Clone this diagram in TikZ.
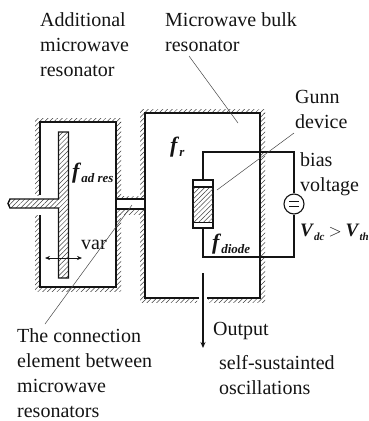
\documentclass[tikz,border=0pt]{standalone}
\usepackage{fontspec}
\setmainfont{Liberation Serif}
\usepackage{xcolor}
\usetikzlibrary{arrows.meta, positioning, patterns.meta}
\definecolor{cInk}{RGB}{20,20,20}
\definecolor{cLeader}{RGB}{70,70,70}
\newcommand{\fsym}[2]{\textbf{\textit{#1}}\raisebox{-4pt}{\fontsize{13}{13}\selectfont\textbf{\textit{#2}}}}
\newcommand{\vsym}[2]{{\fontsize{19}{25}\selectfont\textbf{\textit{#1}}}\raisebox{-4pt}{\fontsize{11}{11}\selectfont\textbf{\textit{#2}}}}
\tikzset{
	wall/.style={draw=cInk, line width=1.4pt},
	wire/.style={draw=cInk, line width=1.1pt},
	hatchstrip/.style={pattern={Lines[angle=45,distance=3.4pt,line width=.5pt]}, pattern color=black!75},
	leader/.style={draw=cLeader, line width=.5pt},
	label/.style={anchor=north west, inner sep=0pt, align=left, text=cInk, font=\fontsize{20}{25}\selectfont},
	symb/.style={anchor=base west, inner sep=0pt, text=cInk, font=\fontsize{22}{25}\selectfont},
	diodebox/.style={draw=cInk, line width=1.1pt, minimum width=20pt, minimum height=48pt, inner sep=0pt},
	sourcebox/.style={circle, draw=cInk, fill=white, line width=1.1pt, minimum size=20pt, inner sep=0pt},
	flowarrow/.style={-{Stealth[length=6pt,width=5pt]}, line width=1.1pt, draw=cInk},
	vararrow/.style={{Stealth[length=5pt,width=4pt]}-{Stealth[length=5pt,width=4pt]}, line width=.6pt, draw=cInk},
}
\begin{document}
\begin{tikzpicture}[x=1pt,y=-1pt]
	\useasboundingbox (0,0) rectangle (369,421);
	% wall hatching, strips as x0/y0/x1/y1
	\foreach \xa/\ya/\xb/\yb in {35/118/40/195, 35/215/40/291, 40/118/121/122, 116/122/121/196, 116/214/121/291, 40/287/116/291,
		140/109/145/196, 140/214/145/302, 145/109/265/113, 260/113/265/302, 145/298/197/302, 208/298/260/302,
		116/196/145/199, 116/209/145/214} {
		\fill[hatchstrip] (\xa,\ya) rectangle (\xb,\yb);
	}
	% additional resonator
	\draw[wall] (40,195) -- (40,122) -- (116,122) -- (116,287) -- (40,287) -- (40,215);
	% bulk resonator
	\draw[wall] (199,298) -- (145,298) -- (145,113) -- (260,113) -- (260,298) -- (207,298);
	% connection element
	\draw[wall] (116,199) -- (145,199) (116,209) -- (145,209);
	% tuning rod with its stem
	\draw[wall, hatchstrip] (58.5,132) -- (68.5,132) -- (68.5,278) -- (58.5,278) -- (58.5,208) -- (10,208) -- (8,203.5) -- (10,199) -- (58.5,199) -- cycle;
	\draw[vararrow] (45,258) -- (82,258);
	% circuit
	\node[diodebox] (diode) at (203,204) {};
	\fill[hatchstrip] (193,187) rectangle (213,222.5);
	\draw[wire] (193,187) -- (213,187) (193,222.5) -- (213,222.5);
	\node[sourcebox] (volt) at (294,204) {};
	\draw[wire] (289,201.5) -- (299,201.5) (289,206.5) -- (299,206.5);
	\coordinate (wireTop) at (203,152);
	\coordinate (wireBot) at (203,257);
	\draw[wire] (diode.north) -- (wireTop) -| (volt.north);
	\draw[wire] (diode.south) -- (wireBot) -| (volt.south);
	% output
	\coordinate (outA) at (203,273);
	\coordinate (outB) at (203,348);
	\draw[flowarrow] (outA) -- (outB);
	% labels
	\node[label] (lAdd) at (40,12) {Additional\\microwave\\resonator};
	\node[label] (lBulk) at (165,12) {Microwave bulk\\resonator};
	\node[label] (lGunn) at (295,90) {Gunn\\device};
	\node[label] (lBias) at (300,152) {bias\\voltage};
	\node[label] (lVar) at (81,240) {var};
	\node[label] (lOut) at (213,322) {Output};
	\node[label] (lSelf) at (219,355) {self-sustainted\\oscillations};
	\node[label] (lConn) at (17,328) {The connection\\element between\\microwave\\resonators};
	\node[symb] (sAd) at (72,178) {\fsym{f}{ad res}};
	\node[symb] (sR) at (170,152) {\fsym{f}{r}};
	\node[symb] (sDi) at (212,249) {\fsym{f}{diode}};
	\node[symb] (sV) at (300,236) {\vsym{V}{dc}\hspace{4pt}{\fontsize{17}{25}\selectfont$>$}\hspace{4pt}\vsym{V}{th}};
	% leaders
	\coordinate (tipBulk) at (238,123);
	\coordinate (tipGunn) at (217,190);
	\coordinate (tipConn) at (132,205);
	\coordinate (endBulk) at (189,56);
	\coordinate (endGunn) at (294,133);
	\coordinate (endConn) at (45,324);
	\draw[leader] (endBulk) -- (tipBulk);
	\draw[leader] (endGunn) -- (tipGunn);
	\draw[leader] (endConn) -- (tipConn);
\end{tikzpicture}
\end{document}
